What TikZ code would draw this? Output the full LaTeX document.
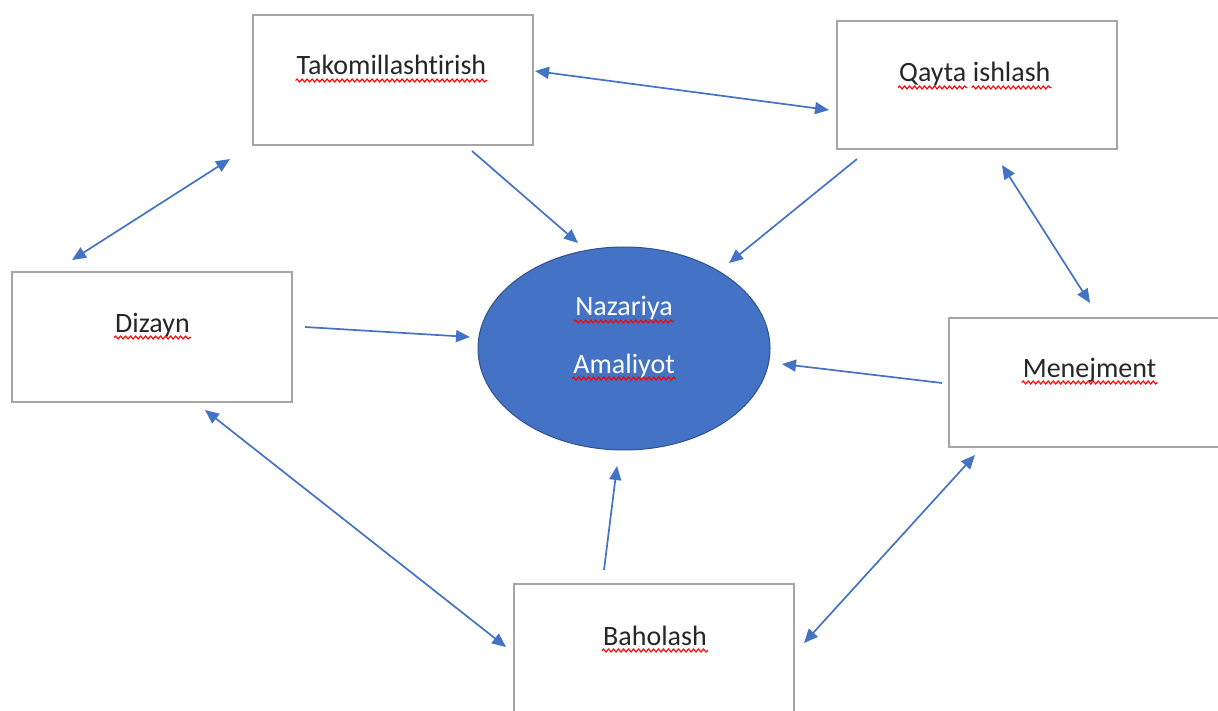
\documentclass[tikz,border=0pt]{standalone}
\usepackage{fontspec}
\setmainfont{Carlito}[RawFeature={-liga}]
\usetikzlibrary{shapes.geometric,arrows.meta,decorations.pathmorphing}
\definecolor{blu}{HTML}{4472C4}
\definecolor{edgeblu}{HTML}{2F528F}
\definecolor{boxgray}{HTML}{A5A5A5}
\definecolor{wavered}{HTML}{FF0000}
\tikzset{
 box/.style={draw=boxgray, line width=1.5pt, fill=white, rectangle, inner sep=0pt},
 lbl/.style={inner sep=0pt, anchor=base, font=\fontsize{28}{34}\selectfont, text=black!85},
 conn/.style={draw=blu, line width=1.7pt, -{Triangle[length=14pt,width=12pt]}},
 bconn/.style={draw=blu, line width=1.7pt, {Triangle[length=14pt,width=12pt]}-{Triangle[length=14pt,width=12pt]}},
 wavy/.style={draw=wavered, line width=1.1pt, decorate, decoration={snake, segment length=5pt, amplitude=1.5pt}},
}
\begin{document}
\begin{tikzpicture}[x=1pt,y=-1pt]
\useasboundingbox (0,0) rectangle (1218,711);
% boxes
\node[box, minimum width=280pt, minimum height=130pt] (tak) at (393,80) {};
\node[box, minimum width=280pt, minimum height=128pt] (qay) at (977,85) {};
\node[box, minimum width=280pt, minimum height=130pt] (diz) at (152,337) {};
\node[box, minimum width=281pt, minimum height=129pt] (men) at (1089.5,382.5) {};
\node[box, minimum width=280pt, minimum height=136pt] (bah) at (654,652) {};
% ellipse
\node[ellipse, fill=blu, draw=edgeblu, line width=1pt, minimum width=292pt, minimum height=203pt, inner sep=0pt] (ell) at (624,348.5) {};
% labels
\node[lbl] (tT) at (391.5,75) {Takomillashtirish};
\node[lbl, anchor=base west] (tQ1) at (899,82) {Qayta};
\node[lbl, anchor=base west] (tQ2) at ([xshift=6.3pt]tQ1.base east) {ishlash};
\node[lbl] (tD) at (152.5,332) {Dizayn};
\node[lbl] (tM) at (1089.5,377) {Menejment};
\node[lbl] (tB) at (655,645) {Baholash};
\node[lbl, text=white] (tN) at (624,316) {Nazariya};
\node[lbl, text=white] (tA) at (624,373) {Amaliyot};
% wavy underlines
\foreach \w in {tT,tQ1,tQ2,tD,tM,tB,tN,tA}{
  \draw[wavy] ([xshift=-1pt,yshift=-5.5pt]\w.base west) -- ([xshift=1pt,yshift=-5.5pt]\w.base east);
}
% connector end points
\coordinate (a1s) at (535,71);  \coordinate (a1e) at (829,110);
\coordinate (a2s) at (472,151); \coordinate (a2e) at (578,243);
\coordinate (a3s) at (857,159); \coordinate (a3e) at (729,263);
\coordinate (a4s) at (230,159); \coordinate (a4e) at (72,260);
\coordinate (a5s) at (305,327); \coordinate (a5e) at (470,337);
\coordinate (a6s) at (942,383); \coordinate (a6e) at (782,364);
\coordinate (a7s) at (1002,165); \coordinate (a7e) at (1090,303);
\coordinate (a8s) at (205,410); \coordinate (a8e) at (506,647);
\coordinate (a9s) at (604,570); \coordinate (a9e) at (617,466);
\coordinate (a10s) at (975,455); \coordinate (a10e) at (804,643);
% connectors
\draw[bconn] (a1s) -- (a1e);
\draw[conn] (a2s) -- (a2e);
\draw[conn] (a3s) -- (a3e);
\draw[bconn] (a4s) -- (a4e);
\draw[conn] (a5s) -- (a5e);
\draw[conn] (a6s) -- (a6e);
\draw[bconn] (a7s) -- (a7e);
\draw[bconn] (a8s) -- (a8e);
\draw[conn] (a9s) -- (a9e);
\draw[bconn] (a10s) -- (a10e);
\end{tikzpicture}
\end{document}
